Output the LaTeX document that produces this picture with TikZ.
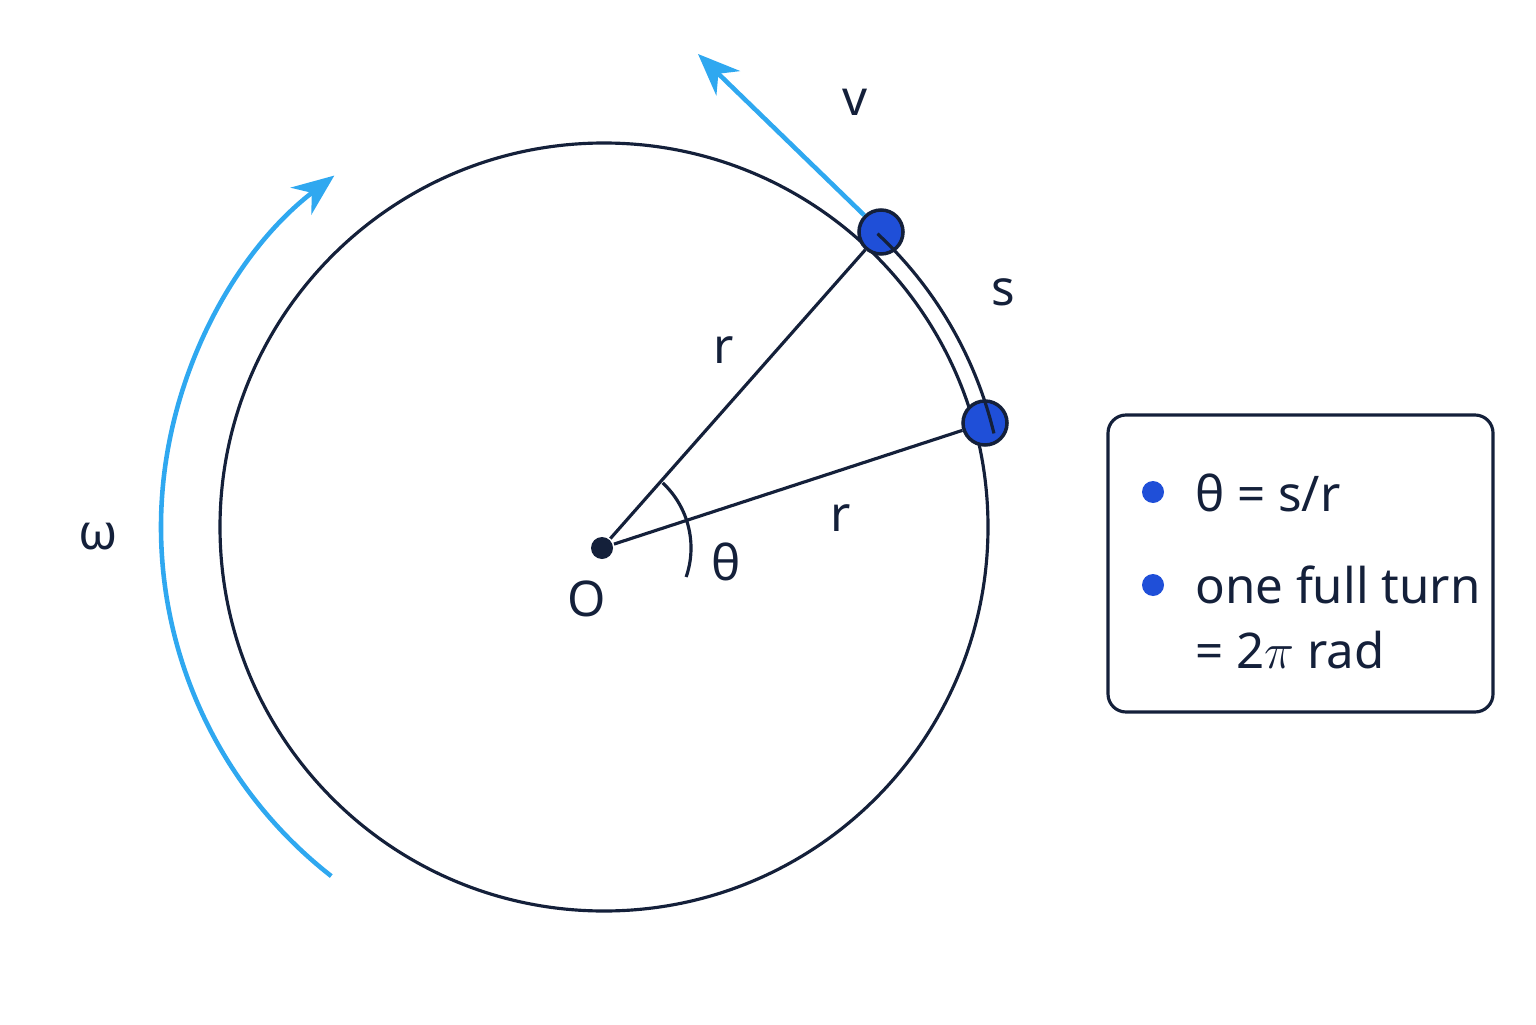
\documentclass[tikz,border=0pt]{standalone}
\usepackage{fontspec}
\setmainfont{Noto Sans}
\usetikzlibrary{arrows.meta,calc}
\definecolor{ink}{HTML}{14203A}
\definecolor{sky}{HTML}{2FA8F0}
\definecolor{dotblue}{HTML}{1F4FD8}
\begin{document}
\begin{tikzpicture}[
    line width=0.9pt, draw=ink,
    lbl/.style={text=ink,font=\fontsize{14}{17}\selectfont},
    pt/.style={circle,draw=ink,line width=1pt,fill=dotblue,minimum size=0.44cm,inner sep=0pt},
    bul/.style={circle,fill=dotblue,minimum size=0.22cm,inner sep=0pt},
    blue arrow/.style={sky,line width=1.3pt,-{Stealth[length=0.42cm,width=0.34cm]}}
  ]
    \useasboundingbox (0,0) rectangle (15.36,10.24);
    \coordinate (C) at (6.04,4.97);
    \draw[ink] (C) circle (3.84cm);
    \node[circle,fill=ink,minimum size=0.22cm,inner sep=0pt] (O) at (6.02,4.76){};
    \node[pt] (A) at (8.81,7.92){};
    \node[pt] (B) at (9.85,6.01){};
    \draw[ink] (O) -- (A);
    \draw[ink] (O) -- (B);
    % arc length s
    \draw[ink] ($(C)+(47:4.01)$) arc (47:13.5:4.01);
    % angle theta
    \draw[ink] ($(O)+(47:0.89)$) arc (47:-19:0.89);
    % velocity and angular speed
    \coordinate (vtip) at (6.98,9.70);
    \draw[blue arrow] (A.north west) -- (vtip);
    \draw[blue arrow] ($(C)+(232:4.43)$) arc (232:127.5:4.43);
    % labels
    \node[lbl] (vlab) at (8.55,9.22) {v};
    \node[lbl] (slab) at (10.03,7.32) {s};
    \node[lbl] (r1) at (7.24,6.74) {r};
    \node[lbl] (r2) at (8.41,5.06) {r};
    \node[lbl] (th) at (7.26,4.62) {θ};
    \node[lbl] (olab) at (5.87,4.25) {O};
    \node[lbl] (wlab) at (0.98,4.87) {ω};
    % legend
    \draw[ink,rounded corners=0.18cm] (11.08,3.12) rectangle (14.93,6.09);
    \node[bul] (b1) at (11.53,5.32){};
    \node[bul] (b2) at (11.53,4.39){};
    \node[lbl,anchor=west] (t1) at (11.82,5.31) {θ = s/r};
    \node[lbl,anchor=west] (t2) at (11.82,4.39) {one full turn};
    \node[lbl,anchor=west] (t3) at (11.82,3.74) {= 2$\pi$ rad};
\end{tikzpicture}
\end{document}
